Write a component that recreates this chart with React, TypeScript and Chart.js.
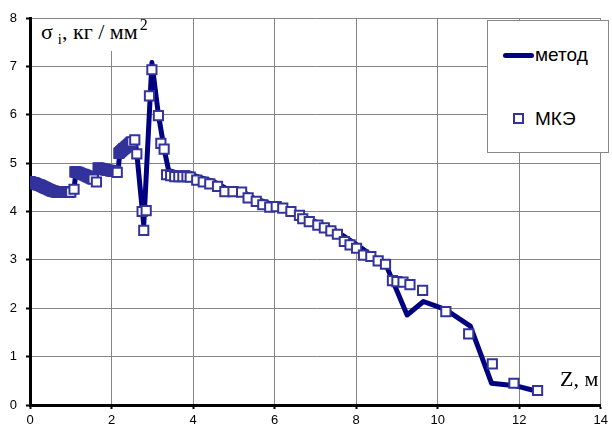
import React, { useEffect, useRef } from 'react';
import { Chart, registerables } from 'chart.js';

Chart.register(...registerables);

// "метод" line: Z (m) and sigma_i (kg/mm^2)
const methodZ = [0.0, 0.3, 0.6, 1.0, 1.08, 1.12, 1.5, 1.62, 1.66, 2.1, 2.16, 2.2, 2.5, 2.58, 2.62, 2.79, 2.99, 3.15, 3.3, 3.4, 3.6, 3.9, 4.1, 4.5, 4.8, 5.2, 5.5, 6.0, 6.5, 7.0, 7.5, 8.0, 8.5, 8.75, 9.25, 9.65, 10.2, 10.8, 11.32, 11.9, 12.46];
const methodSigma = [4.65, 4.55, 4.42, 4.4, 4.45, 4.78, 4.7, 4.65, 4.88, 4.82, 4.82, 5.2, 5.4, 5.45, 5.2, 3.72, 7.08, 6.0, 5.25, 4.85, 4.8, 4.8, 4.72, 4.62, 4.48, 4.42, 4.27, 4.13, 3.96, 3.79, 3.6, 3.32, 3.02, 2.86, 1.86, 2.14, 1.97, 1.63, 0.45, 0.4, 0.28];

// "МКЭ" squares
const mkeZ = [
  0.0, 0.025, 0.05, 0.075, 0.1, 0.125, 0.15, 0.175, 0.2, 0.225, 0.25, 0.275, 0.3, 0.325, 0.35, 0.375, 0.4, 0.425, 0.45, 0.475,
  0.5, 0.525, 0.55, 0.575, 0.6, 0.625, 0.65, 0.675, 0.7, 0.725, 0.75, 0.775, 0.8, 0.825, 0.85, 0.875, 0.9, 0.925, 0.95, 0.975, 1.0,
  1.08,
  1.1, 1.125, 1.15, 1.175, 1.2, 1.225, 1.25, 1.275, 1.3, 1.325, 1.35, 1.375, 1.4, 1.425, 1.45, 1.475, 1.5, 1.525, 1.55,
  1.63,
  1.67, 1.7, 1.725, 1.75, 1.775, 1.8, 1.825, 1.85, 1.875, 1.9, 1.925, 1.95, 1.975, 2.0, 2.025, 2.05, 2.075, 2.1,
  2.14,
  2.18, 2.2, 2.225, 2.25, 2.275, 2.3, 2.325, 2.35, 2.375, 2.4, 2.425, 2.45, 2.475, 2.5,
  2.57, 2.62, 2.75, 2.79, 2.85, 2.93, 2.99, 3.15, 3.21, 3.29,
  3.35, 3.45, 3.55, 3.65, 3.75, 3.85, 3.93, 4.09, 4.25, 4.41, 4.6, 4.78, 4.98, 5.19, 5.35, 5.55, 5.71, 5.88, 6.04, 6.2, 6.4,
  6.61, 6.69, 6.85, 7.06, 7.22, 7.38, 7.54, 7.71, 7.85, 8.01, 8.18, 8.36, 8.54, 8.72, 8.89, 9.0, 9.15, 9.32, 9.63,
  10.2, 10.76, 11.34, 11.87, 12.45,
];
const mkeSigma = [
  4.62, 4.61, 4.6, 4.6, 4.59, 4.58, 4.57, 4.56, 4.55, 4.55, 4.54, 4.53, 4.52, 4.51, 4.5, 4.49, 4.48, 4.47, 4.46, 4.45,
  4.44, 4.43, 4.42, 4.42, 4.41, 4.41, 4.4, 4.4, 4.4, 4.4, 4.4, 4.4, 4.4, 4.4, 4.4, 4.4, 4.4, 4.4, 4.4, 4.4, 4.4,
  4.46,
  4.82, 4.82, 4.81, 4.81, 4.8, 4.79, 4.78, 4.77, 4.77, 4.76, 4.75, 4.74, 4.73, 4.72, 4.71, 4.7, 4.69, 4.68, 4.67,
  4.61,
  4.9, 4.89, 4.89, 4.88, 4.88, 4.87, 4.87, 4.86, 4.86, 4.85, 4.85, 4.85, 4.84, 4.84, 4.84, 4.83, 4.83, 4.83,
  4.81,
  5.2, 5.22, 5.24, 5.26, 5.28, 5.3, 5.31, 5.33, 5.35, 5.37, 5.39, 5.41, 5.43, 5.44,
  5.48, 5.19, 4.0, 3.61, 4.02, 6.39, 6.93, 5.98, 5.41, 5.29,
  4.76, 4.74, 4.72, 4.72, 4.72, 4.72, 4.71, 4.65, 4.61, 4.57, 4.52, 4.41, 4.41, 4.4, 4.28, 4.21, 4.14, 4.09, 4.1, 4.07, 4.0,
  3.92, 3.85, 3.79, 3.72, 3.66, 3.6, 3.53, 3.38, 3.31, 3.24, 3.1, 3.07, 2.98, 2.91, 2.57, 2.55, 2.54, 2.49, 2.37,
  1.93, 1.47, 0.85, 0.45, 0.3,
];

const xTicks = [0, 2, 4, 6, 8, 10, 12, 14];
const yTicks = [0, 1, 2, 3, 4, 5, 6, 7, 8];

const seriesNames = ['метод', 'МКЭ'];

const NAVY = '#000080';
const MARK = '#33339A';
const GRID = '#858585';

export default function App() {
  const ref = useRef<HTMLCanvasElement>(null);

  useEffect(() => {
    const chart = new Chart(ref.current as HTMLCanvasElement, {
      type: 'scatter',
      data: {
        datasets: [
          {
            label: seriesNames[0],
            data: methodZ.map((x, i) => ({ x, y: methodSigma[i] })),
            showLine: true,
            borderColor: NAVY,
            backgroundColor: NAVY,
            borderWidth: 5,
            pointRadius: 0,
            tension: 0,
            borderJoinStyle: 'round',
            borderCapStyle: 'round',
            order: 2,
          } as any,
          {
            label: seriesNames[1],
            data: mkeZ.map((x, i) => ({ x, y: mkeSigma[i] })),
            showLine: false,
            pointStyle: 'rect',
            pointRadius: 6.5,
            pointBorderWidth: 2,
            borderColor: MARK,
            pointBorderColor: MARK,
            backgroundColor: '#ffffff',
            pointBackgroundColor: '#ffffff',
            order: 1,
          } as any,
        ],
      },
      options: {
        responsive: false,
        animation: false,
        layout: { padding: { left: 0, right: 7, top: 18, bottom: 0 } },
        plugins: { legend: { display: false }, tooltip: { enabled: false } },
        scales: {
          x: {
            type: 'linear',
            min: 0,
            max: 14,
            afterFit: (s: any) => { s.height = 26; },
            afterBuildTicks: (s: any) => { s.ticks = xTicks.map((v) => ({ value: v })); },
            ticks: { color: '#000', font: { family: 'Liberation Sans', size: 13 }, padding: 4, maxRotation: 0, autoSkip: false },
            grid: { color: GRID, lineWidth: 1, tickLength: 4, tickColor: '#000', tickWidth: 2 },
            border: { display: true, color: '#000', width: 3 },
          },
          y: {
            type: 'linear',
            min: 0,
            max: 8,
            afterFit: (s: any) => { s.width = 30; },
            afterBuildTicks: (s: any) => { s.ticks = yTicks.map((v) => ({ value: v })); },
            ticks: { color: '#000', font: { family: 'Liberation Sans', size: 13 }, padding: 9, autoSkip: false },
            grid: { color: GRID, lineWidth: 1, tickLength: 4, tickColor: '#000', tickWidth: 2 },
            border: { display: true, color: '#000', width: 3 },
          },
        },
      },
    });
    return () => chart.destroy();
  }, []);

  const serif = '"Liberation Serif", "Times New Roman", serif';
  const sans = '"Liberation Sans", Arial, sans-serif';

  return (
    <div style={{ position: 'absolute', left: 0, top: 0, width: 612, height: 431, background: '#fff', overflow: 'hidden' }}>
      <canvas ref={ref} width={612} height={431} style={{ width: 612, height: 431, display: 'block' }} />
      {/* y-axis title */}
      <div style={{ position: 'absolute', left: 32, top: 19, width: 138, height: 32, background: '#fff' }} />
      <div style={{ position: 'absolute', left: 41, top: 21, fontFamily: serif, fontSize: 22, lineHeight: '22px', whiteSpace: 'nowrap', color: '#000' }}>
        <span>σ</span>
        <span style={{ fontSize: 15, position: 'relative', top: 5, marginLeft: 5 }}>i</span>
        <span>, кг / мм</span>
        <span style={{ fontSize: 16, position: 'relative', top: -9, marginLeft: 2 }}>2</span>
      </div>
      {/* x-axis title */}
      <div style={{ position: 'absolute', left: 560, top: 368, fontFamily: serif, fontSize: 22, lineHeight: '22px', whiteSpace: 'nowrap', color: '#000' }}>
        Z, м
      </div>
      {/* legend */}
      <div style={{ position: 'absolute', left: 487, top: 20, width: 120, height: 131, background: '#fff', border: '1px solid #888' }} />
      <div style={{ position: 'absolute', left: 503, top: 53, width: 31, height: 5, background: NAVY, borderRadius: 3 }} />
      <div style={{ position: 'absolute', left: 535, top: 45, fontFamily: sans, fontSize: 19, lineHeight: '19px', color: '#000', whiteSpace: 'nowrap' }}>
        {seriesNames[0]}
      </div>
      <div style={{ position: 'absolute', left: 513, top: 113, width: 7, height: 7, background: '#fff', border: `2px solid ${MARK}` }} />
      <div style={{ position: 'absolute', left: 535, top: 109, fontFamily: sans, fontSize: 19, lineHeight: '19px', color: '#000', whiteSpace: 'nowrap' }}>
        {seriesNames[1]}
      </div>
    </div>
  );
}
